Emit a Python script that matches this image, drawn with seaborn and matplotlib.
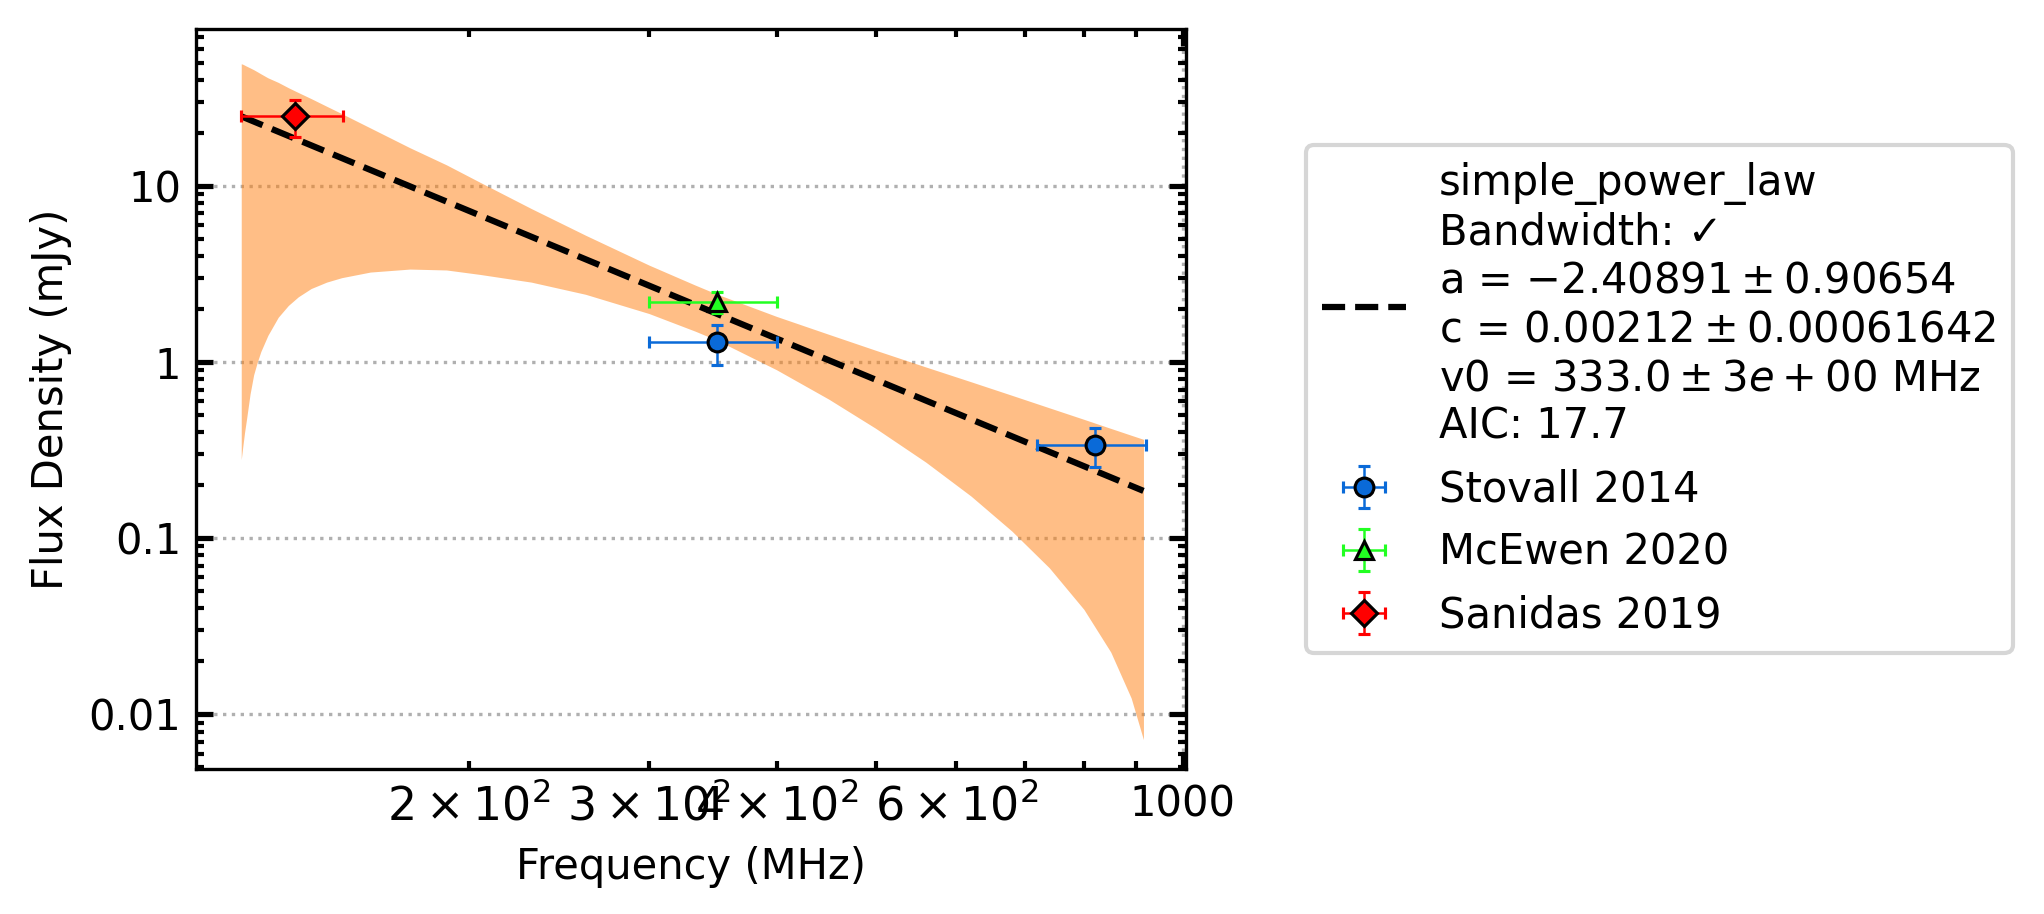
import numpy as np
import pandas as pd
import matplotlib
matplotlib.use("Agg")
import matplotlib.pyplot as plt
import matplotlib.ticker as mticker
import seaborn as sns

# measurements (MHz, mJy)
stovall_freq = [350, 820]
stovall_freq_err = [50, 100]
stovall_flux = [1.3, 0.34]
stovall_flux_err = [0.33, 0.085]

mcewen_freq = [350]
mcewen_freq_err = [50]
mcewen_flux = [2.2]
mcewen_flux_err = [0.3]

sanidas_freq = [135]
sanidas_freq_err = [15.6]
sanidas_flux = [25]
sanidas_flux_err = [6]

# fitted simple power law, read at the ends of the frequency range
fit_freq = [119.6, 915]
fit_flux = [24.9, 0.186]

# uncertainty band edges
band_freq = [119.6, 120, 120.5, 121, 122, 123, 124, 125, 127, 130, 133, 136, 140,
             145, 150, 160, 175, 190, 205, 230, 260, 300, 333, 350, 400, 450, 500,
             560, 620, 680, 740, 800, 850, 890, 915]
band_hi = [49.5, 49.2, 48.6, 48.0, 46.9, 45.8, 44.6, 43.4, 41.2, 38.8, 36.2, 34.0, 31.4,
           28.4, 25.8, 21.4, 16.5, 13.2, 10.5, 7.46, 5.26, 3.56, 2.74, 2.43, 1.82, 1.44, 1.17,
           0.94, 0.775, 0.649, 0.551, 0.474, 0.421, 0.385, 0.365]
band_lo = [0.28, 0.33, 0.40, 0.47, 0.66, 0.85, 1.0, 1.15, 1.42, 1.8, 2.1, 2.35, 2.62,
           2.85, 3.02, 3.25, 3.38, 3.34, 3.15, 2.85, 2.43, 1.89, 1.50, 1.33, 0.906, 0.617, 0.422,
           0.271, 0.174, 0.110, 0.068, 0.0395, 0.0226, 0.0124, 0.0072]

fit_label = ("simple_power_law\nBandwidth: \u2713\n"
             "a = $-2.40891 \\pm 0.90654$\n"
             "c = $0.00212 \\pm 0.00061642$\n"
             "v0 = $333.0 \\pm 3e+00$ MHz\n"
             "AIC: 17.7")


def main():
    sns.set_theme(style="ticks", rc={
        "xtick.direction": "in", "ytick.direction": "in",
        "xtick.top": True, "ytick.right": True,
        "xtick.minor.visible": True, "ytick.minor.visible": True,
        "xtick.major.size": 4, "ytick.major.size": 4,
        "xtick.minor.size": 2, "ytick.minor.size": 2,
        "axes.edgecolor": "black", "axes.linewidth": 0.8,
        "xtick.color": "black", "ytick.color": "black",
        "text.color": "black", "axes.labelcolor": "black",
    })
    plt.rcParams["font.family"] = ["DejaVu Sans"]
    plt.rcParams["font.size"] = 10
    plt.rcParams["mathtext.fontset"] = "dejavusans"

    fig = plt.figure(figsize=(2044 / 300, 914 / 300), dpi=300)
    ax = fig.add_axes([0.0959, 0.1586, 0.4843, 0.8097])

    ax.fill_between(band_freq, band_lo, band_hi, color="#ff7f0e", alpha=0.5, lw=0)

    fit = pd.DataFrame({"freq": fit_freq, "flux": fit_flux})
    sns.lineplot(data=fit, x="freq", y="flux", ax=ax, color="black",
                 linestyle="--", lw=1.5, label=fit_label)

    common = dict(ls="none", ms=4.5, mec="black", mew=0.75,
                  elinewidth=0.6, capsize=1.5, capthick=0.6)
    ax.errorbar(stovall_freq, stovall_flux, xerr=stovall_freq_err, yerr=stovall_flux_err,
                fmt="o", color="#0a6ad8", label="Stovall 2014", **common)
    ax.errorbar(mcewen_freq, mcewen_flux, xerr=mcewen_freq_err, yerr=mcewen_flux_err,
                fmt="^", color="#22ff22", label="McEwen 2020", **common)
    ax.errorbar(sanidas_freq, sanidas_flux, xerr=sanidas_freq_err, yerr=sanidas_flux_err,
                fmt="D", color="#ff0000", label="Sanidas 2019", **common)

    ax.set_xscale("log")
    ax.set_yscale("log")
    ax.set_xlim(108, 1007)
    ax.set_ylim(0.0049, 78)
    ax.xaxis.set_major_formatter(mticker.FormatStrFormatter("%g"))
    ax.yaxis.set_major_formatter(mticker.FormatStrFormatter("%g"))
    ax.tick_params(labelsize=10, colors="black")
    ax.grid(True, which="major", linestyle=":", color="#b0b0b0", lw=0.8)

    ax.set_xlabel("Frequency (MHz)", fontsize=10)
    ax.set_ylabel("Flux Density (mJy)", fontsize=10)

    leg = ax.legend(loc="center left", bbox_to_anchor=(1.1, 0.5), fontsize=10,
                    frameon=True, framealpha=0.8, edgecolor="0.8", fancybox=True)
    for t in leg.get_texts():
        t.set_color("black")

    fig.savefig("out.png", dpi=300)


if __name__ == "__main__":
    main()
